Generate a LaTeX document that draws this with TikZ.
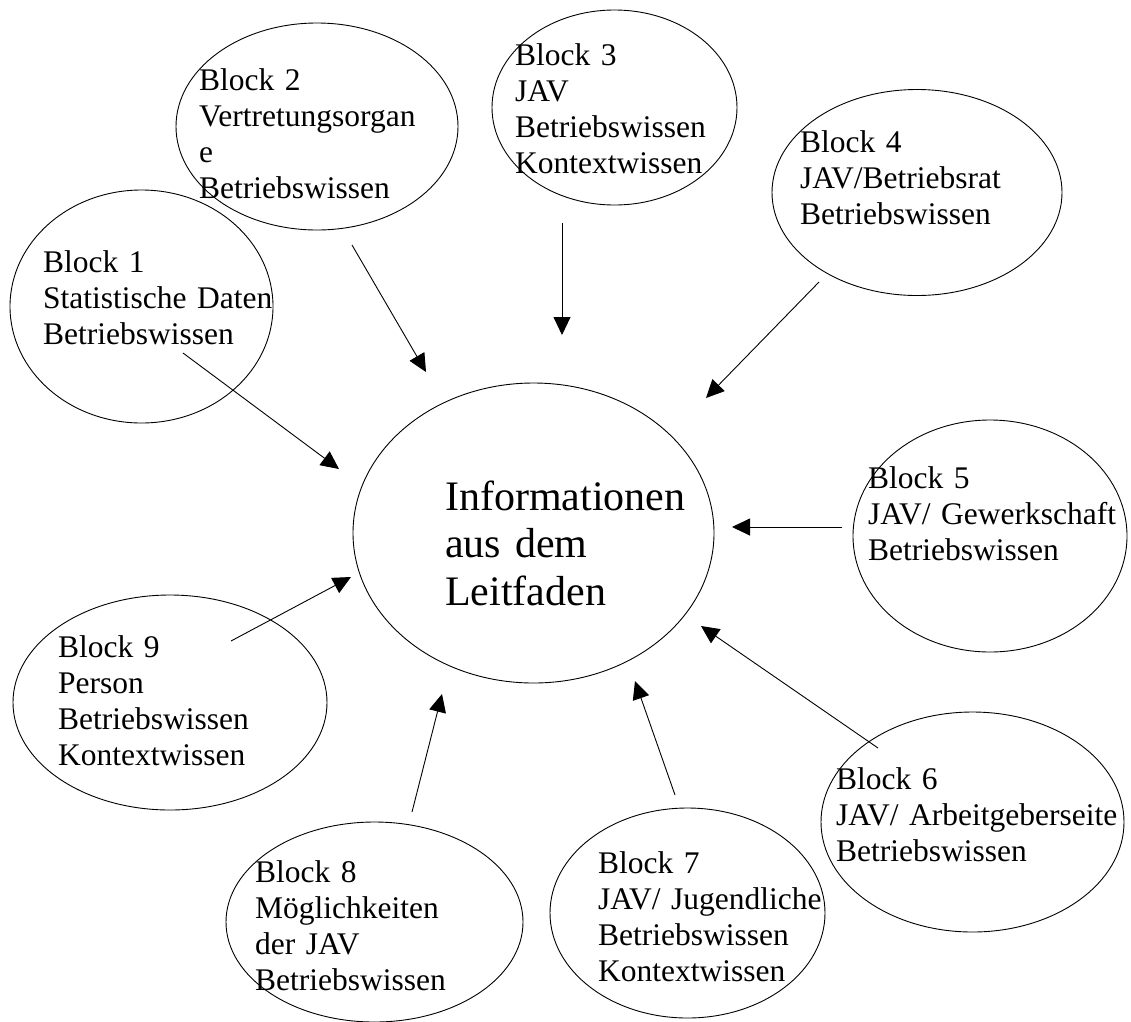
\documentclass[tikz,border=0pt]{standalone}
\usepackage{fontspec}
\setmainfont{Liberation Serif}
\usetikzlibrary{shapes.geometric,arrows.meta,calc}
\tikzset{
  blob/.style={ellipse, draw=black, line width=0.9pt, inner sep=0pt},
  lbl/.style={anchor=base west, inner sep=0pt, text width=330pt, align=left,
              font=\fontsize{31.5}{36.3}\selectfont},
  biglbl/.style={anchor=base west, inner sep=0pt, text width=330pt, align=left,
              font=\fontsize{42}{47.5}\selectfont},
  arr/.style={line width=0.9pt, -{Triangle[length=18pt,width=17pt]}}
}
\begin{document}
\begin{tikzpicture}[x=1pt,y=-1pt]
\fill[white] (0,0) rectangle (1131,1021);
\useasboundingbox (0,0) rectangle (1131,1021);
\clip (0,0) rectangle (1131,1021);
% ellipses
\node[blob, minimum width=361pt, minimum height=300pt] (c)  at (533.5,533) {};
\node[blob, minimum width=263pt, minimum height=233pt] (b1) at (141.5,306.5) {};
\node[blob, minimum width=282pt, minimum height=207pt] (b2) at (317,126.5) {};
\node[blob, minimum width=245pt, minimum height=195pt] (b3) at (614.5,107.5) {};
\node[blob, minimum width=290pt, minimum height=206pt] (b4) at (917,192.5) {};
\node[blob, minimum width=274pt, minimum height=232pt] (b5) at (990,536) {};
\node[blob, minimum width=303pt, minimum height=220pt] (b6) at (972.5,822) {};
\node[blob, minimum width=275pt, minimum height=210pt] (b7) at (687.5,913) {};
\node[blob, minimum width=297pt, minimum height=200pt] (b8) at (374.5,922) {};
\node[blob, minimum width=314pt, minimum height=215pt] (b9) at (170,702.5) {};
% texts
\node[biglbl] (tc) at (445,510) {Informationen\\aus dem\\Leitfaden};
\node[lbl] (t1) at (43,272) {Block 1\\Statistische Daten\\Betriebswissen};
\node[lbl] (t2) at (199,90) {Block 2\\Vertretungsorgan\\e\\Betriebswissen};
\node[lbl] (t3) at (515,65) {Block 3\\JAV\\Betriebswissen\\Kontextwissen};
\node[lbl] (t4) at (800,152) {Block 4\\JAV/Betriebsrat\\Betriebswissen};
\node[lbl] (t5) at (868,488) {Block 5\\JAV/ Gewerkschaft\\Betriebswissen};
\node[lbl] (t6) at (836,789) {Block 6\\JAV/ Arbeitgeberseite\\Betriebswissen};
\node[lbl] (t7) at (598,873) {Block 7\\JAV/ Jugendliche\\Betriebswissen\\Kontextwissen};
\node[lbl] (t8) at (255,882) {Block 8\\Möglichkeiten\\der JAV\\Betriebswissen};
\node[lbl] (t9) at (58,657) {Block 9\\Person\\Betriebswissen\\Kontextwissen};
% arrows
\draw[arr] ($(b1)+(41.5,46.5)$) -- ($(c)+(-194.5,-64)$);
\draw[arr] ($(b2)+(35,118.5)$) -- ($(c)+(-107.5,-161)$);
\draw[arr] ($(b3)+(-52.5,115.5)$) -- ($(c)+(28.5,-198)$);
\draw[arr] ($(b4)+(-98,89.5)$) -- ($(c)+(172.5,-135)$);
\draw[arr] ($(b5)+(-148,-9)$) -- ($(c)+(198.5,-6)$);
\draw[arr] ($(b6)+(-94.5,-74)$) -- ($(c)+(167.5,93)$);
\draw[arr] ($(b7)+(-12.5,-118)$) -- ($(c)+(101.5,148)$);
\draw[arr] ($(b8)+(37.5,-110)$) -- ($(c)+(-91.5,161)$);
\draw[arr] ($(b9)+(61,-61.5)$) -- ($(c)+(-182.5,44)$);
\end{tikzpicture}
\end{document}
